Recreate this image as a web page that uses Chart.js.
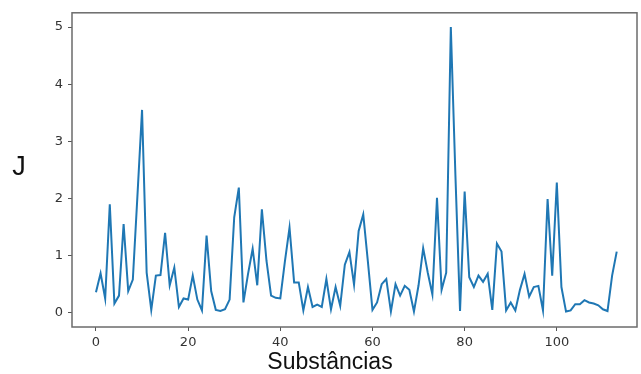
<!DOCTYPE html>
<html>
<head>
<meta charset="utf-8">
<script src="https://cdn.jsdelivr.net/npm/chart.js@4.4.1/dist/chart.umd.min.js"></script>
<style>
  html, body { margin: 0; padding: 0; background: #fff; }
  #wrap { width: 641px; height: 374px; position: relative; }
</style>
</head>
<body>
<div id="wrap"><canvas id="chart"></canvas></div>
<script>
// values, one per substance index 0..113
const jValues = [
  0.36, 0.69, 0.25, 1.90, 0.16, 0.30, 1.55, 0.38, 0.58, 2.05,
  3.55, 0.70, 0.05, 0.65, 0.66, 1.40, 0.48, 0.79, 0.10, 0.25,
  0.23, 0.65, 0.23, 0.04, 1.35, 0.38, 0.05, 0.03, 0.06, 0.23,
  1.67, 2.19, 0.18, 0.68, 1.12, 0.48, 1.81, 0.91, 0.30, 0.26,
  0.25, 0.90, 1.49, 0.53, 0.53, 0.04, 0.45, 0.10, 0.14, 0.10,
  0.59, 0.06, 0.45, 0.12, 0.84, 1.06, 0.49, 1.43, 1.72, 0.90,
  0.05, 0.18, 0.50, 0.59, 0.02, 0.50, 0.30, 0.47, 0.40, 0.02,
  0.48, 1.13, 0.70, 0.32, 2.01, 0.40, 0.70, 5.00, 2.40, 0.03,
  2.12, 0.62, 0.45, 0.65, 0.54, 0.68, 0.05, 1.21, 1.07, 0.04,
  0.18, 0.04, 0.40, 0.68, 0.28, 0.45, 0.47, 0.04, 1.99, 0.65,
  2.28, 0.45, 0.02, 0.04, 0.15, 0.15, 0.22, 0.18, 0.16, 0.13,
  0.06, 0.03, 0.65, 1.07
];
const xTicks = [0, 20, 40, 60, 80, 100];
const yTicks = [0, 1, 2, 3, 4, 5];
const xTitle = 'Substâncias';
const yTitle = 'J';

const points = jValues.map((v, i) => ({ x: i, y: v }));

// box around the plot and the two big axis titles
const framePlugin = {
  id: 'frame',
  afterDraw(chart) {
    const { ctx, chartArea: a } = chart;
    ctx.save();
    ctx.strokeStyle = '#6b6b6b';
    ctx.lineWidth = 1.5;
    ctx.strokeRect(a.left, a.top, a.right - a.left, a.bottom - a.top);
    ctx.fillStyle = '#111';
    ctx.textAlign = 'center';
    ctx.textBaseline = 'alphabetic';
    ctx.font = '27px "Liberation Sans", Arial, sans-serif';
    ctx.fillText(yTitle, 19, 175);
    ctx.font = '23px "Liberation Sans", Arial, sans-serif';
    ctx.fillText(xTitle, 330, 369);
    ctx.restore();
  }
};

const tickFont = { family: 'DejaVu Sans', size: 13 };

new Chart(document.getElementById('chart'), {
  type: 'line',
  data: {
    datasets: [{
      data: points,
      borderColor: '#1f77b4',
      borderWidth: 2,
      pointRadius: 0,
      tension: 0,
      fill: false
    }]
  },
  options: {
    responsive: true,
    maintainAspectRatio: false,
    animation: false,
    layout: { padding: { left: 0, top: 10, right: 4, bottom: 0 } },
    plugins: {
      legend: { display: false },
      tooltip: { enabled: false }
    },
    scales: {
      x: {
        type: 'linear',
        min: -5.2,
        max: 117.4,
        afterBuildTicks: s => { s.ticks = xTicks.map(v => ({ value: v })); },
        afterFit: s => { s.height = 47; },
        ticks: { font: tickFont, color: '#333', padding: 4, maxRotation: 0 },
        grid: { drawOnChartArea: false, drawTicks: true, tickLength: 4, tickColor: '#555' },
        border: { display: false }
      },
      y: {
        min: -0.25,
        max: 5.25,
        afterBuildTicks: s => { s.ticks = yTicks.map(v => ({ value: v })); },
        afterFit: s => { s.width = 72; },
        ticks: { font: tickFont, color: '#333', padding: 5 },
        grid: { drawOnChartArea: false, drawTicks: true, tickLength: 4, tickColor: '#555' },
        border: { display: false }
      }
    }
  },
  plugins: [framePlugin]
});
</script>
</body>
</html>
